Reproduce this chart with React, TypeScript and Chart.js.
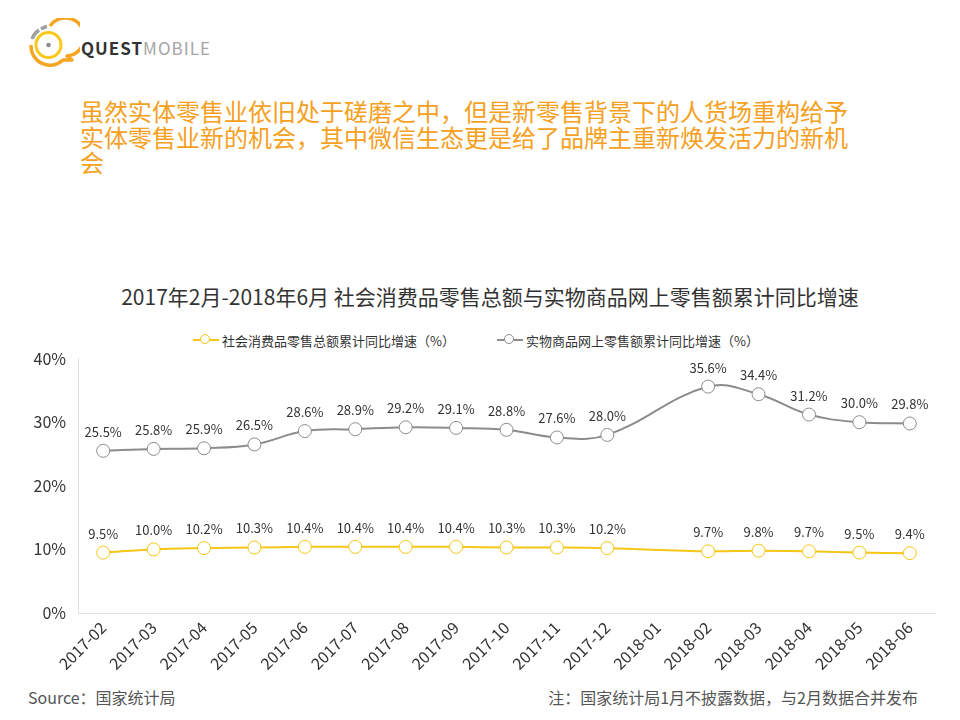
import React, { useEffect, useRef } from "react";
import { Chart, registerables } from "chart.js";

Chart.register(...registerables);

const categories = [
  "2017-02", "2017-03", "2017-04", "2017-05", "2017-06", "2017-07", "2017-08", "2017-09",
  "2017-10", "2017-11", "2017-12", "2018-01", "2018-02", "2018-03", "2018-04", "2018-05", "2018-06",
];
const retailTotal: (number | null)[] = [9.5, 10.0, 10.2, 10.3, 10.4, 10.4, 10.4, 10.4, 10.3, 10.3, 10.2, null, 9.7, 9.8, 9.7, 9.5, 9.4];
const onlinePhysical: (number | null)[] = [25.5, 25.8, 25.9, 26.5, 28.6, 28.9, 29.2, 29.1, 28.8, 27.6, 28.0, null, 35.6, 34.4, 31.2, 30.0, 29.8];
const seriesNames = ["社会消费品零售总额累计同比增速（%）", "实物商品网上零售额累计同比增速（%）"];
const yTicks = [0, 10, 20, 30, 40];

const YELLOW = "#F5C518";
const GRAY = "#8C8C8C";
const FONT = '"Noto Sans CJK SC", "Noto Sans", sans-serif';

const labelPlugin = {
  id: "valueLabels",
  afterDatasetsDraw(chart: any) {
    const ctx = chart.ctx;
    ctx.save();
    ctx.font = `13px ${FONT}`;
    ctx.fillStyle = "#333333";
    ctx.textAlign = "center";
    ctx.textBaseline = "alphabetic";
    chart.data.datasets.forEach((ds: any, i: number) => {
      const meta = chart.getDatasetMeta(i);
      meta.data.forEach((pt: any, j: number) => {
        const v = ds.data[j];
        if (v === null || v === undefined) return;
        ctx.fillText(v.toFixed(1) + "%", pt.x, pt.y - 14);
      });
    });
    ctx.restore();
  },
};

function LineChart() {
  const ref = useRef<HTMLCanvasElement | null>(null);
  useEffect(() => {
    if (!ref.current) return;
    const chart = new Chart(ref.current, {
      type: "line",
      data: {
        labels: categories,
        datasets: [
          {
            label: seriesNames[0],
            data: retailTotal,
            borderColor: YELLOW,
            backgroundColor: "#ffffff",
            borderWidth: 2,
            pointRadius: 6.5,
            pointBorderWidth: 1,
            pointBackgroundColor: "#ffffff",
            pointBorderColor: YELLOW,
            tension: 0.4,
            spanGaps: true,
          },
          {
            label: seriesNames[1],
            data: onlinePhysical,
            borderColor: GRAY,
            backgroundColor: "#ffffff",
            borderWidth: 2,
            pointRadius: 6.5,
            pointBorderWidth: 1,
            pointBackgroundColor: "#ffffff",
            pointBorderColor: GRAY,
            tension: 0.4,
            spanGaps: true,
          },
        ],
      },
      options: {
        animation: false,
        responsive: false,
        maintainAspectRatio: false,
        layout: { padding: { left: 0, right: 25, top: 8, bottom: 0 } },
        plugins: {
          legend: { display: false },
          tooltip: { enabled: false },
          title: { display: false },
        },
        scales: {
          x: {
            type: "category",
            offset: true,
            grid: { display: false, drawTicks: false },
            border: { display: true, color: "#E0E0E0", width: 1 },
            ticks: {
              minRotation: 45,
              maxRotation: 45,
              autoSkip: false,
              padding: 5,
              color: "#333333",
              font: { size: 16, family: FONT },
            },
            afterFit: (scale: any) => {
              scale.height = 66;
            },
          },
          y: {
            min: 0,
            max: 40,
            grid: { display: false, drawTicks: false },
            border: { display: true, color: "#E0E0E0", width: 1 },
            afterBuildTicks: (scale: any) => {
              scale.ticks = yTicks.map((v) => ({ value: v }));
            },
            ticks: {
              padding: 12,
              color: "#333333",
              font: { size: 16, family: FONT },
              callback: (v: any) => v + "%",
            },
            afterFit: (scale: any) => {
              scale.width = 78;
            },
          },
        },
      },
      plugins: [labelPlugin],
    });
    return () => chart.destroy();
  }, []);
  return (
    <canvas
      ref={ref}
      width={960}
      height={342}
      style={{ position: "absolute", left: 0, top: 337, width: 960, height: 342 }}
    />
  );
}

function Logo() {
  return (
    <svg width={60} height={60} viewBox="0 0 60 60" style={{ position: "absolute", left: 20, top: 18 }}>
      <path
        d="M 30 8 A 19 19 0 1 1 47 38 L 52 42 L 43 42 A 19 19 0 0 1 11 27"
        fill="none"
        stroke="#F5A623"
        strokeWidth={3.5}
        strokeLinejoin="round"
      />
      <path d="M 12 21 A 19 19 0 0 1 19 12" fill="none" stroke="#A0A0A0" strokeWidth={3.5} />
      <path d="M 21 11 A 19 19 0 0 1 27 8.5" fill="none" stroke="#A0A0A0" strokeWidth={3.5} />
      <circle cx={28.5} cy={27} r={12.5} fill="none" stroke="#F8C81C" strokeWidth={3} />
      <circle cx={28.5} cy={27} r={2.3} fill="#8C8C8C" />
    </svg>
  );
}

export default function App() {
  return (
    <div
      style={{
        position: "absolute",
        left: 0,
        top: 0,
        width: 960,
        height: 720,
        background: "#ffffff",
        fontFamily: FONT,
        overflow: "hidden",
      }}
    >
      <Logo />
      <div
        style={{
          position: "absolute",
          left: 81,
          top: 36,
          fontSize: 17,
          letterSpacing: 1,
          lineHeight: "24px",
          whiteSpace: "nowrap",
        }}
      >
        <span style={{ color: "#333333", fontWeight: 700 }}>QUEST</span>
        <span style={{ color: "#A5A5A5" }}>MOBILE</span>
      </div>
      <div
        style={{
          position: "absolute",
          left: 80,
          top: 98,
          width: 775,
          fontSize: 24,
          lineHeight: "25.5px",
          color: "#F5A01E",
        }}
      >
        虽然实体零售业依旧处于磋磨之中，但是新零售背景下的人货场重构给予实体零售业新的机会，其中微信生态更是给了品牌主重新焕发活力的新机会
      </div>
      <div
        style={{
          position: "absolute",
          left: 0,
          top: 281,
          width: 980,
          textAlign: "center",
          fontSize: 21,
          color: "#333333",
          whiteSpace: "nowrap",
        }}
      >
        2017年2月-2018年6月 社会消费品零售总额与实物商品网上零售额累计同比增速
      </div>
      {[
        { left: 193, color: YELLOW, text: seriesNames[0] },
        { left: 497, color: GRAY, text: seriesNames[1] },
      ].map((item) => (
        <div
          key={item.text}
          style={{
            position: "absolute",
            left: item.left,
            top: 331,
            height: 18,
            display: "flex",
            alignItems: "center",
            fontSize: 13,
            color: "#333333",
            whiteSpace: "nowrap",
          }}
        >
          <div style={{ position: "relative", width: 26, height: 18, marginRight: 3 }}>
            <div
              style={{
                position: "absolute",
                left: 0,
                top: 8,
                width: 26,
                height: 2,
                background: item.color,
              }}
            />
            <div
              style={{
                position: "absolute",
                left: 7,
                top: 3,
                width: 10,
                height: 10,
                boxSizing: "border-box",
                borderRadius: "50%",
                border: `1px solid ${item.color}`,
                background: "#ffffff",
              }}
            />
          </div>
          {item.text}
        </div>
      ))}
      <LineChart />
      <div
        style={{
          position: "absolute",
          left: 28,
          top: 685,
          fontSize: 16,
          color: "#555555",
          whiteSpace: "nowrap",
        }}
      >
        Source：国家统计局
      </div>
      <div
        style={{
          position: "absolute",
          right: 42,
          top: 685,
          fontSize: 16,
          color: "#555555",
          whiteSpace: "nowrap",
        }}
      >
        注：国家统计局1月不披露数据，与2月数据合并发布
      </div>
    </div>
  );
}
